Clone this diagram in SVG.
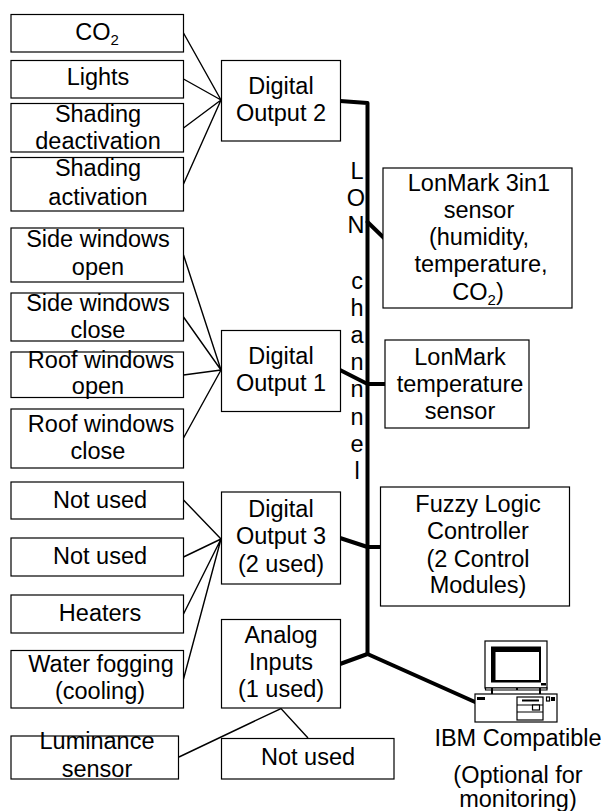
<svg xmlns="http://www.w3.org/2000/svg" width="602" height="811" viewBox="0 0 602 811">
<style>
text{font-family:"Liberation Sans",Arial,sans-serif;font-size:23.5px;fill:#000;text-anchor:middle}
.s{font-size:15px}
rect.b{fill:#fff;stroke:#000;stroke-width:1.2}
.t{fill:none;stroke:#000;stroke-width:1.4}
.k{fill:none;stroke:#000;stroke-width:4;stroke-linejoin:round;stroke-linecap:round}
.p{fill:#fff;stroke:#000;stroke-width:1.2}
</style>
<rect width="602" height="811" fill="#fff"/>
<g id="connectors">
<path class="t" d="M183.500 33L221 100M183.500 79L221 100M183.500 128L221 100M183.500 184L221 100"/>
<path class="t" d="M183.500 255L221 370M183.500 317L221 370M183.500 375L221 370M183.500 438L221 370"/>
<path class="t" d="M183.500 500L221 539M183.500 557L221 539M183.500 614L221 539M183.500 679L221 539"/>
<path class="t" d="M179 757L281 708.500L308 738"/>
<path class="k" d="M340 101L367.500 103V654"/>
<path class="k" d="M367.500 222L384 238"/>
<path class="k" d="M340 370L367.500 384H386"/>
<path class="k" d="M340 538L367.500 547H381"/>
<path class="k" d="M340 664L367.500 654L475 702"/>
</g>
<g id="co2"><rect class="b" x="11" y="14.500" width="172.500" height="37.500"/><text x="97" y="40">CO<tspan class="s" dy="5">2</tspan></text></g>
<g id="lights"><rect class="b" x="11" y="60.500" width="172.500" height="37.500"/><text x="98" y="85">Lights</text></g>
<g id="shading-deactivation"><rect class="b" x="11" y="103.500" width="172.500" height="48.500"/><text x="98" y="122">Shading</text><text x="98" y="149">deactivation</text></g>
<g id="shading-activation"><rect class="b" x="11" y="157.500" width="172.500" height="53.500"/><text x="98" y="176">Shading</text><text x="98" y="205">activation</text></g>
<g id="side-open"><rect class="b" x="11" y="228" width="172.500" height="54"/><text x="98" y="247">Side windows</text><text x="98" y="275">open</text></g>
<g id="side-close"><rect class="b" x="11" y="293" width="172.500" height="48"/><text x="98" y="311">Side windows</text><text x="98" y="338">close</text></g>
<g id="roof-open"><rect class="b" x="11" y="352" width="172.500" height="45.500"/><text x="101" y="368">Roof windows</text><text x="98" y="394">open</text></g>
<g id="roof-close"><rect class="b" x="11" y="409" width="172.500" height="59"/><text x="101" y="432">Roof windows</text><text x="98" y="459">close</text></g>
<g id="not-used-1"><rect class="b" x="11" y="482" width="172.500" height="37"/><text x="100" y="508">Not used</text></g>
<g id="not-used-2"><rect class="b" x="11" y="538" width="172.500" height="38"/><text x="100" y="564">Not used</text></g>
<g id="heaters"><rect class="b" x="11" y="595" width="172.500" height="38"/><text x="100" y="621">Heaters</text></g>
<g id="water-fogging"><rect class="b" x="11" y="650.500" width="172.500" height="57.500"/><text x="101" y="672">Water fogging</text><text x="100" y="699">(cooling)</text></g>
<g id="luminance"><rect class="b" x="11" y="736" width="167.500" height="43"/><text x="97" y="749">Luminance</text><text x="97" y="777">sensor</text></g>
<g id="digital-output-2"><rect class="b" x="221.500" y="60.500" width="119" height="80.500"/><text x="281" y="94">Digital</text><text x="281" y="121">Output 2</text></g>
<g id="digital-output-1"><rect class="b" x="221.500" y="330.500" width="119" height="81"/><text x="281" y="364">Digital</text><text x="281" y="391">Output 1</text></g>
<g id="digital-output-3"><rect class="b" x="221.500" y="492" width="119" height="92"/><text x="281" y="517">Digital</text><text x="281" y="544">Output 3</text><text x="281" y="572">(2 used)</text></g>
<g id="analog-inputs"><rect class="b" x="221.500" y="619.500" width="119" height="88.500"/><text x="281" y="643">Analog</text><text x="281" y="670">Inputs</text><text x="281" y="697">(1 used)</text></g>
<g id="not-used-3"><rect class="b" x="221.500" y="738.500" width="172.500" height="40.500"/><text x="308" y="765">Not used</text></g>
<g id="lonmark-3in1"><rect class="b" x="383" y="168" width="189" height="140"/><text x="479" y="191">LonMark 3in1</text><text x="479" y="218">sensor</text><text x="479" y="245">(humidity,</text><text x="481" y="272">temperature,</text><text x="478" y="300">CO<tspan class="s" dy="5">2</tspan><tspan dy="-5">)</tspan></text></g>
<g id="lonmark-temperature"><rect class="b" x="385" y="340" width="144" height="88"/><text x="460" y="365">LonMark</text><text x="460" y="392">temperature</text><text x="460" y="419">sensor</text></g>
<g id="fuzzy-logic-controller"><rect class="b" x="380.500" y="487" width="189" height="119"/><text x="478" y="512">Fuzzy Logic</text><text x="478" y="539">Controller</text><text x="478" y="567">(2 Control</text><text x="478" y="593">Modules)</text></g>
<g id="lon-channel"><text x="357" y="179">L</text><text x="356" y="206">O</text><text x="356" y="233">N</text><text x="357" y="289">c</text><text x="357" y="316">h</text><text x="357" y="343">a</text><text x="357" y="370">n</text><text x="357" y="397">n</text><text x="357" y="425">n</text><text x="357" y="452">e</text><text x="357" y="479">l</text></g>
<g id="ibm-compatible">
<rect class="p" x="485" y="641" width="62" height="47"/>
<path d="M491 646.500H541V682.500H491Z M495.500 652V680H539V652Z" fill="#000" fill-rule="evenodd"/>
<rect x="541" y="683" width="5" height="2.500" fill="#000"/>
<path class="p" d="M485.500 688H547V690H485.500Z"/>
<path d="M492 688v6M517 688v2M540 688v6" stroke="#000" stroke-width="2" fill="none"/>
<rect class="p" x="475" y="694" width="82" height="28"/>
<rect x="477" y="697" width="8" height="3" fill="#000"/>
<rect class="p" x="517" y="697" width="26" height="23"/>
<path d="M517 705H543M517 712H543" stroke="#000" stroke-width="1" fill="none"/>
<path d="M522 700.500H539" stroke="#000" stroke-width="2" fill="none"/>
<rect class="p" x="532.500" y="705" width="7" height="5"/>
<rect class="p" x="546.500" y="697" width="3" height="4"/>
<rect x="551" y="697" width="4" height="4" fill="#000"/>
<text x="518" y="746">IBM Compatible</text><text x="518" y="783">(Optional for</text><text x="518" y="807">monitoring)</text>
</g>
</svg>
